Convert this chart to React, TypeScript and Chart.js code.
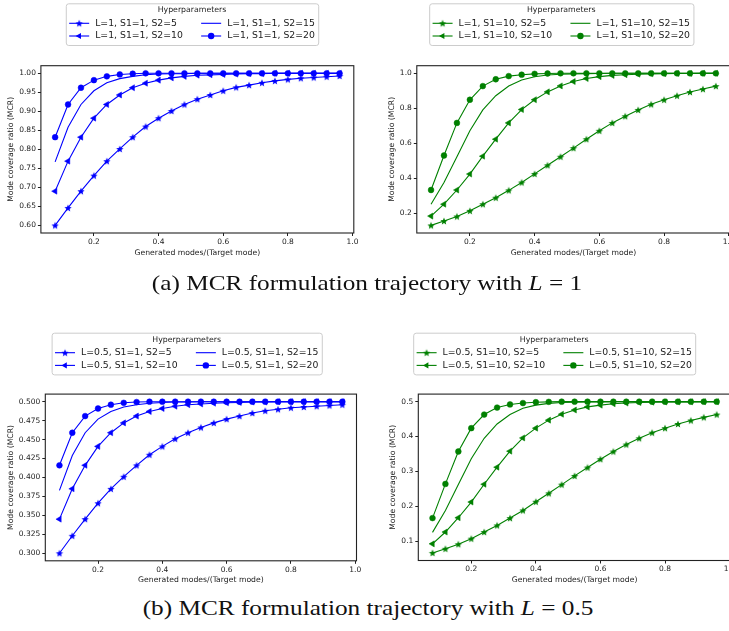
import React, { useEffect, useRef } from 'react';
import { Chart, registerables } from 'chart.js';
Chart.register(...registerables);

const FONT = '"DejaVu Sans", sans-serif';
const TEXT = '#222222';
const BLUE = '#0000ff';
const GREEN = '#008000';

const X_VALUES = [0.08, 0.12, 0.16, 0.20, 0.24, 0.28, 0.32, 0.36, 0.40, 0.44, 0.48, 0.52, 0.56, 0.60, 0.64, 0.68, 0.72, 0.76, 0.80, 0.84, 0.88, 0.92, 0.96];
const X_TICKS = [0.2, 0.4, 0.6, 0.8, 1.0];

// (a) left: L=1, S1=1
const A1_LABELS = ['L=1, S1=1, S2=5', 'L=1, S1=1, S2=10', 'L=1, S1=1, S2=15', 'L=1, S1=1, S2=20'];
const A1_S2_5 = [0.600, 0.646, 0.690, 0.731, 0.769, 0.801, 0.832, 0.860, 0.882, 0.901, 0.918, 0.932, 0.943, 0.954, 0.963, 0.969, 0.975, 0.980, 0.984, 0.987, 0.989, 0.991, 0.993];
const A1_S2_10 = [0.690, 0.769, 0.832, 0.882, 0.918, 0.943, 0.962, 0.974, 0.982, 0.988, 0.992, 0.995, 0.996, 0.997, 0.998, 0.999, 0.999, 1.000, 1.000, 1.000, 1.000, 1.000, 1.000];
const A1_S2_15 = [0.767, 0.858, 0.918, 0.954, 0.975, 0.986, 0.992, 0.996, 0.998, 0.999, 0.999, 1.000, 1.000, 1.000, 1.000, 1.000, 1.000, 1.000, 1.000, 1.000, 1.000, 1.000, 1.000];
const A1_S2_20 = [0.832, 0.918, 0.962, 0.982, 0.992, 0.997, 0.999, 1.000, 1.000, 1.000, 1.000, 1.000, 1.000, 1.000, 1.000, 1.000, 1.000, 1.000, 1.000, 1.000, 1.000, 1.000, 1.000];
const A1_Y_TICKS = [0.60, 0.65, 0.70, 0.75, 0.80, 0.85, 0.90, 0.95, 1.00];

// (a) right: L=1, S1=10
const A2_LABELS = ['L=1, S1=10, S2=5', 'L=1, S1=10, S2=10', 'L=1, S1=10, S2=15', 'L=1, S1=10, S2=20'];
const A2_S2_5 = [0.132, 0.157, 0.183, 0.215, 0.253, 0.290, 0.332, 0.377, 0.426, 0.475, 0.524, 0.573, 0.624, 0.672, 0.717, 0.755, 0.791, 0.823, 0.849, 0.872, 0.893, 0.910, 0.927];
const A2_S2_10 = [0.185, 0.253, 0.334, 0.425, 0.527, 0.624, 0.717, 0.793, 0.849, 0.894, 0.928, 0.953, 0.970, 0.981, 0.988, 0.992, 0.995, 0.997, 0.998, 0.999, 0.999, 1.000, 1.000];
const A2_S2_15 = [0.253, 0.377, 0.524, 0.672, 0.791, 0.872, 0.927, 0.962, 0.980, 0.990, 0.995, 0.997, 0.998, 0.999, 1.000, 1.000, 1.000, 1.000, 1.000, 1.000, 1.000, 1.000, 1.000];
const A2_S2_20 = [0.334, 0.531, 0.717, 0.849, 0.927, 0.966, 0.984, 0.992, 0.997, 0.999, 1.000, 1.000, 1.000, 1.000, 1.000, 1.000, 1.000, 1.000, 1.000, 1.000, 1.000, 1.000, 1.000];
const A2_Y_TICKS = [0.2, 0.4, 0.6, 0.8, 1.0];

// (b) left: L=0.5, S1=1
const B1_LABELS = ['L=0.5, S1=1, S2=5', 'L=0.5, S1=1, S2=10', 'L=0.5, S1=1, S2=15', 'L=0.5, S1=1, S2=20'];
const B1_S2_5 = [0.300, 0.323, 0.345, 0.366, 0.385, 0.401, 0.416, 0.430, 0.441, 0.451, 0.459, 0.466, 0.472, 0.477, 0.481, 0.485, 0.488, 0.490, 0.492, 0.493, 0.494, 0.495, 0.496];
const B1_S2_10 = [0.345, 0.385, 0.416, 0.441, 0.459, 0.472, 0.481, 0.487, 0.491, 0.494, 0.496, 0.497, 0.498, 0.4985, 0.499, 0.4995, 0.4995, 0.500, 0.500, 0.500, 0.500, 0.500, 0.500];
const B1_S2_15 = [0.383, 0.429, 0.459, 0.477, 0.487, 0.493, 0.496, 0.498, 0.499, 0.4995, 0.4995, 0.500, 0.500, 0.500, 0.500, 0.500, 0.500, 0.500, 0.500, 0.500, 0.500, 0.500, 0.500];
const B1_S2_20 = [0.416, 0.459, 0.481, 0.491, 0.496, 0.4985, 0.4995, 0.500, 0.500, 0.500, 0.500, 0.500, 0.500, 0.500, 0.500, 0.500, 0.500, 0.500, 0.500, 0.500, 0.500, 0.500, 0.500];
const B1_Y_TICKS = [0.300, 0.325, 0.350, 0.375, 0.400, 0.425, 0.450, 0.475, 0.500];

// (b) right: L=0.5, S1=10
const B2_LABELS = ['L=0.5, S1=10, S2=5', 'L=0.5, S1=10, S2=10', 'L=0.5, S1=10, S2=15', 'L=0.5, S1=10, S2=20'];
const B2_S2_5 = [0.066, 0.078, 0.091, 0.107, 0.126, 0.145, 0.166, 0.188, 0.213, 0.237, 0.262, 0.287, 0.311, 0.335, 0.357, 0.377, 0.395, 0.411, 0.424, 0.436, 0.446, 0.455, 0.463];
const B2_S2_10 = [0.092, 0.126, 0.167, 0.212, 0.263, 0.312, 0.358, 0.396, 0.424, 0.447, 0.464, 0.476, 0.485, 0.490, 0.494, 0.496, 0.4975, 0.4985, 0.499, 0.4995, 0.4995, 0.500, 0.500];
const B2_S2_15 = [0.125, 0.188, 0.262, 0.336, 0.395, 0.436, 0.463, 0.481, 0.490, 0.495, 0.4975, 0.4985, 0.499, 0.4995, 0.500, 0.500, 0.500, 0.500, 0.500, 0.500, 0.500, 0.500, 0.500];
const B2_S2_20 = [0.166, 0.264, 0.357, 0.424, 0.463, 0.483, 0.492, 0.496, 0.4985, 0.4995, 0.500, 0.500, 0.500, 0.500, 0.500, 0.500, 0.500, 0.500, 0.500, 0.500, 0.500, 0.500, 0.500];
const B2_Y_TICKS = [0.1, 0.2, 0.3, 0.4, 0.5];

const MARKERS = ['star', 'tri', 'none', 'circle'];

type Panel = {
  color: string;
  labels: string[];
  series: number[][];
  yTicks: number[];
  yDec: number;
  yMin: number;
  yMax: number;
  box: { left: number; top: number; w: number; h: number };
  area: { l: number; t: number; r: number; b: number };
  yTitleX: number;
  xTitleY: number;
  legend: { cx: number; top: number };
};

const PANELS: Panel[] = [
  {
    color: BLUE, labels: A1_LABELS, series: [A1_S2_5, A1_S2_10, A1_S2_15, A1_S2_20],
    yTicks: A1_Y_TICKS, yDec: 2, yMin: 0.58, yMax: 1.02,
    box: { left: 0, top: 0, w: 365, h: 275 },
    area: { l: 40.9, t: 65.7, r: 353.8, b: 233 },
    yTitleX: 11, xTitleY: 252.7, legend: { cx: 192, top: 3.3 },
  },
  {
    color: GREEN, labels: A2_LABELS, series: [A2_S2_5, A2_S2_10, A2_S2_15, A2_S2_20],
    yTicks: A2_Y_TICKS, yDec: 1, yMin: 0.0886, yMax: 1.0434,
    box: { left: 365, top: 0, w: 400, h: 275 },
    area: { l: 416.8, t: 65.7, r: 730.1, b: 233 },
    yTitleX: 391.7, xTitleY: 252.7, legend: { cx: 561.3, top: 3.3 },
  },
  {
    color: BLUE, labels: B1_LABELS, series: [B1_S2_5, B1_S2_10, B1_S2_15, B1_S2_20],
    yTicks: B1_Y_TICKS, yDec: 3, yMin: 0.29, yMax: 0.51,
    box: { left: 0, top: 290, w: 365, h: 300 },
    area: { l: 45.3, t: 394.1, r: 356.5, b: 560.8 },
    yTitleX: 11, xTitleY: 580, legend: { cx: 186.7, top: 332.7 },
  },
  {
    color: GREEN, labels: B2_LABELS, series: [B2_S2_5, B2_S2_10, B2_S2_15, B2_S2_20],
    yTicks: B2_Y_TICKS, yDec: 1, yMin: 0.0443, yMax: 0.5217,
    box: { left: 365, top: 290, w: 400, h: 300 },
    area: { l: 418.3, t: 394.1, r: 730.9, b: 560.5 },
    yTitleX: 393.3, xTitleY: 580, legend: { cx: 554.2, top: 332.7 },
  },
];

const TICK_FS = 7.5;
const AXIS_FS = 7.7;
const LEG_FS = 9.3;
const LEG_TITLE_FS = 7.8;

function makeStar(color: string, r: number): HTMLCanvasElement {
  const s = Math.ceil(r * 2 + 2);
  const c = document.createElement('canvas');
  c.width = s;
  c.height = s;
  const g = c.getContext('2d')!;
  g.fillStyle = color;
  g.beginPath();
  for (let i = 0; i < 10; i++) {
    const ang = -Math.PI / 2 + (i * Math.PI) / 5;
    const rr = i % 2 === 0 ? r : r * 0.45;
    const x = s / 2 + rr * Math.cos(ang);
    const y = s / 2 + rr * Math.sin(ang) + 0.4;
    if (i === 0) g.moveTo(x, y);
    else g.lineTo(x, y);
  }
  g.closePath();
  g.fill();
  return c;
}

function drawMarker(ctx: CanvasRenderingContext2D, kind: string, x: number, y: number, color: string, star: HTMLCanvasElement) {
  ctx.fillStyle = color;
  if (kind === 'star') {
    ctx.drawImage(star, x - star.width / 2, y - star.height / 2);
  } else if (kind === 'tri') {
    const r = 3.6;
    ctx.beginPath();
    for (let k = 0; k < 3; k++) {
      const a = -Math.PI / 2 + (k * 2 * Math.PI) / 3;
      const px = x + Math.sin(a) * r;
      const py = y - Math.cos(a) * r;
      if (k === 0) ctx.moveTo(px, py);
      else ctx.lineTo(px, py);
    }
    ctx.closePath();
    ctx.fill();
  } else if (kind === 'circle') {
    ctx.beginPath();
    ctx.arc(x, y, 3.2, 0, Math.PI * 2);
    ctx.fill();
  }
}

function roundRectPath(ctx: CanvasRenderingContext2D, x: number, y: number, w: number, h: number, r: number) {
  ctx.beginPath();
  ctx.moveTo(x + r, y);
  ctx.lineTo(x + w - r, y);
  ctx.arcTo(x + w, y, x + w, y + r, r);
  ctx.lineTo(x + w, y + h - r);
  ctx.arcTo(x + w, y + h, x + w - r, y + h, r);
  ctx.lineTo(x + r, y + h);
  ctx.arcTo(x, y + h, x, y + h - r, r);
  ctx.lineTo(x, y + r);
  ctx.arcTo(x, y, x + r, y, r);
  ctx.closePath();
}

function PanelChart({ p }: { p: Panel }) {
  const ref = useRef<HTMLCanvasElement>(null);
  useEffect(() => {
    const canvas = ref.current!;
    const star = makeStar(p.color, 3.8);
    const datasets = p.series.map((vals, i) => {
      const m = MARKERS[i];
      const base: any = {
        label: p.labels[i],
        data: X_VALUES.map((x, j) => ({ x, y: vals[j] })),
        borderColor: p.color,
        backgroundColor: p.color,
        borderWidth: 1.1,
        tension: 0,
        fill: false,
        pointBorderColor: p.color,
        pointBackgroundColor: p.color,
        pointBorderWidth: 0.5,
        pointHoverRadius: 0,
      };
      if (m === 'star') return { ...base, pointStyle: star, pointRadius: 4 };
      if (m === 'tri') return { ...base, pointStyle: 'triangle', pointRotation: -90, pointRadius: 3.5 };
      if (m === 'circle') return { ...base, pointStyle: 'circle', pointRadius: 2.9 };
      return { ...base, pointRadius: 0 };
    });

    const yAxisW = p.area.l - p.box.left;
    const xAxisH = p.box.top + p.box.h - p.area.b;

    const framePlugin = {
      id: 'frame',
      afterDatasetsDraw(chart: any) {
        const { ctx, chartArea: a } = chart;
        ctx.save();
        ctx.strokeStyle = '#222222';
        ctx.lineWidth = 1.1;
        ctx.strokeRect(a.left, a.top, a.right - a.left, a.bottom - a.top);
        ctx.restore();
      },
    };

    const legendPlugin = {
      id: 'mplLegend',
      afterDraw(chart: any) {
        const ctx: CanvasRenderingContext2D = chart.ctx;
        const cx = p.legend.cx - p.box.left;
        const top = p.legend.top - p.box.top;
        ctx.save();
        ctx.font = `${LEG_FS}px ${FONT}`;
        const cols = [[0, 1], [2, 3]];
        const colW = cols.map((c) => Math.max(...c.map((i) => ctx.measureText(p.labels[i]).width)));
        const PAD = 3.4, HANDLE = 20, GAP = 6, COLSP = 18.3;
        const w = PAD + HANDLE + GAP + colW[0] + COLSP + HANDLE + GAP + colW[1] + PAD;
        const h = 41.7;
        const left = cx - w / 2;
        roundRectPath(ctx, left + 0.5, top + 0.5, w, h, 2.5);
        ctx.fillStyle = 'rgba(255,255,255,0.85)';
        ctx.fill();
        ctx.strokeStyle = '#cccccc';
        ctx.lineWidth = 1;
        ctx.stroke();

        ctx.font = `${LEG_TITLE_FS}px ${FONT}`;
        ctx.fillStyle = TEXT;
        ctx.textAlign = 'center';
        ctx.textBaseline = 'middle';
        ctx.fillText('Hyperparameters', left + w / 2, top + 7);

        ctx.font = `${LEG_FS}px ${FONT}`;
        ctx.textAlign = 'left';
        const rowsY = [top + 20, top + 32.7];
        cols.forEach((c, ci) => {
          const x0 = ci === 0 ? left + PAD : left + PAD + HANDLE + GAP + colW[0] + COLSP;
          c.forEach((idx, ri) => {
            const y = rowsY[ri];
            ctx.strokeStyle = p.color;
            ctx.lineWidth = 1.1;
            ctx.beginPath();
            ctx.moveTo(x0, y);
            ctx.lineTo(x0 + HANDLE, y);
            ctx.stroke();
            drawMarker(ctx, MARKERS[idx], x0 + HANDLE / 2, y, p.color, star);
            ctx.fillStyle = TEXT;
            ctx.fillText(p.labels[idx], x0 + HANDLE + GAP, y);
          });
        });
        ctx.restore();
      },
    };

    const chart = new Chart(canvas, {
      type: 'line',
      data: { datasets },
      options: {
        animation: false,
        responsive: false,
        events: [],
        layout: {
          padding: {
            left: 0,
            top: p.area.t - p.box.top,
            right: p.box.left + p.box.w - p.area.r,
            bottom: 0,
          },
        },
        plugins: {
          legend: { display: false },
          tooltip: { enabled: false },
          title: { display: false },
        },
        scales: {
          x: {
            type: 'linear',
            min: 0.036,
            max: 1.004,
            afterBuildTicks: (s: any) => {
              s.ticks = X_TICKS.map((v) => ({ value: v }));
            },
            afterFit: (s: any) => {
              s.height = xAxisH;
            },
            ticks: {
              font: { family: FONT, size: TICK_FS },
              color: TEXT,
              padding: 1.5,
              maxRotation: 0,
              autoSkip: false,
              callback: (v: any) => Number(v).toFixed(1),
            },
            grid: { drawOnChartArea: false, drawTicks: true, tickLength: 3, tickColor: '#222222', color: '#222222' },
            border: { display: false },
            title: {
              display: true,
              text: 'Generated modes/(Target mode)',
              color: TEXT,
              font: { family: FONT, size: AXIS_FS, lineHeight: 1 },
              padding: { top: 0, bottom: p.box.top + p.box.h - p.xTitleY - AXIS_FS / 2 },
            },
          },
          y: {
            type: 'linear',
            min: p.yMin,
            max: p.yMax,
            afterBuildTicks: (s: any) => {
              s.ticks = p.yTicks.map((v) => ({ value: v }));
            },
            afterFit: (s: any) => {
              s.width = yAxisW;
            },
            ticks: {
              font: { family: FONT, size: TICK_FS },
              color: TEXT,
              padding: 2,
              autoSkip: false,
              callback: (v: any) => Number(v).toFixed(p.yDec),
            },
            grid: { drawOnChartArea: false, drawTicks: true, tickLength: 3, tickColor: '#222222', color: '#222222' },
            border: { display: false },
            title: {
              display: true,
              text: 'Mode coverage ratio (MCR)',
              color: TEXT,
              font: { family: FONT, size: AXIS_FS, lineHeight: 1 },
              padding: { top: p.yTitleX - p.box.left - AXIS_FS / 2, bottom: 0 },
            },
          },
        },
      } as any,
      plugins: [framePlugin, legendPlugin],
    });
    return () => chart.destroy();
  }, [p]);
  return (
    <canvas
      ref={ref}
      width={p.box.w}
      height={p.box.h}
      style={{ position: 'absolute', left: p.box.left, top: p.box.top, width: p.box.w, height: p.box.h }}
    />
  );
}

const captionStyle = (cx: number, cy: number): React.CSSProperties => ({
  position: 'absolute',
  left: cx,
  top: cy,
  transform: 'translate(-50%, -50%) scaleX(1.175)',
  whiteSpace: 'nowrap',
  fontFamily: '"Liberation Serif", "Times New Roman", serif',
  fontSize: 21.5,
  lineHeight: 1,
  color: '#111111',
});

export default function App() {
  return (
    <div style={{ position: 'fixed', left: 0, top: 0, width: 729, height: 631, overflow: 'hidden', background: '#ffffff' }}>
      {PANELS.map((p, i) => (
        <PanelChart key={i} p={p} />
      ))}
      <div style={captionStyle(367, 284.4)}>
        (a) MCR formulation trajectory with <i>L</i> = 1
      </div>
      <div style={captionStyle(367.7, 609.4)}>
        (b) MCR formulation trajectory with <i>L</i> = 0.5
      </div>
    </div>
  );
}
